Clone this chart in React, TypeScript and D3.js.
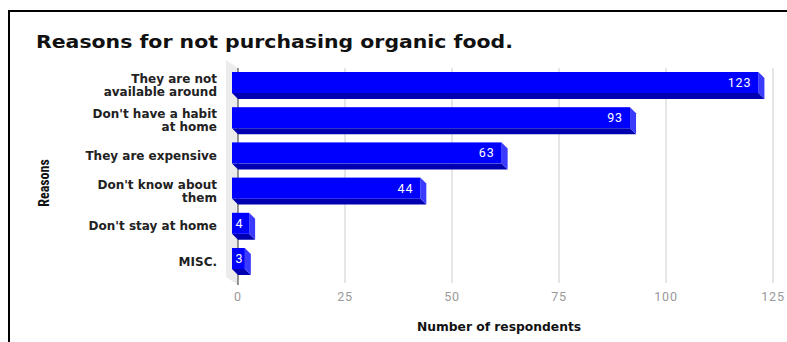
import React from "react";
import * as d3 from "d3";

const categories: string[][] = [
  ["They are not", "available around"],
  ["Don't have a habit", "at home"],
  ["They are expensive"],
  ["Don't know about", "them"],
  ["Don't stay at home"],
  ["MISC."],
];
const values: number[] = [123, 93, 63, 44, 4, 3];
const xTicks: number[] = [0, 25, 50, 75, 100, 125];
const title = "Reasons for not purchasing organic food.";
const xTitle = "Number of respondents";
const yTitle = "Reasons";

const W = 787;
const H = 342;
const DX = 6;
const DY = 6;
const BOLD_FONT = "DejaVu Sans, Verdana, sans-serif";

export default function App() {
  const x = d3.scaleLinear().domain([0, 125]).range([238, 773]);
  const ids = categories.map((_, i) => String(i));
  const y = d3.scalePoint<string>().domain(ids).range([82.5, 258.5]);
  const barH = 21;
  const faceLeft = x(0) - DX;

  return (
    <svg
      width={W}
      height={H}
      style={{ position: "absolute", left: 0, top: 0, background: "#fff" }}
    >
      {/* frame */}
      <rect x={0} y={0} width={W} height={H} fill="#fff" />
      <line x1={8} y1={11} x2={W} y2={11} stroke="#000" strokeWidth={2} />
      <line x1={9} y1={10} x2={9} y2={H} stroke="#000" strokeWidth={2} />

      <text
        x={36}
        y={48}
        fontFamily={BOLD_FONT}
        fontWeight="bold"
        fontSize={18.5}
        textLength={477}
        lengthAdjust="spacingAndGlyphs"
        fill="#111"
      >
        {title}
      </text>

      {/* back wall */}
      <polygon points={`226,60 238,68 238,285 226,277`} fill="#ececec" />

      {/* gridlines */}
      {xTicks.map((t) => (
        <line
          key={"g" + t}
          x1={x(t)}
          x2={x(t)}
          y1={68}
          y2={t === 0 ? 285 : 283}
          stroke={t === 0 ? "#333" : "#ccc"}
          strokeWidth={1}
        />
      ))}

      {/* bars */}
      {values.map((v, i) => {
        const c = y(String(i))!;
        const top = c - barH / 2;
        const bot = top + barH;
        const right = faceLeft + (x(v) - x(0));
        const label = String(v);
        const small = right - faceLeft < 30;
        return (
          <g key={"b" + i}>
            <polygon
              points={`${faceLeft},${bot} ${right},${bot} ${right + DX},${bot + DY} ${faceLeft + DX},${bot + DY}`}
              fill="#0000b0"
            />
            <polygon
              points={`${right},${top} ${right + DX},${top + DY} ${right + DX},${bot + DY} ${right},${bot}`}
              fill="#3b3bff"
            />
            <rect x={faceLeft} y={top} width={right - faceLeft} height={barH} fill="#0000ff" />
            <text
              x={small ? faceLeft + 3.5 : right - 7}
              y={c + 4.5}
              textAnchor={small ? "start" : "end"}
              fontFamily="Roboto, sans-serif"
              fontSize={12.5}
              letterSpacing={0.9}
              fill="#fff"
            >
              {label}
            </text>
          </g>
        );
      })}

      {/* category labels */}
      {categories.map((lines, i) => {
        const c = y(String(i))! + 3;
        const lh = 13;
        const start = c - ((lines.length - 1) * lh) / 2 + 4;
        return (
          <text
            key={"l" + i}
            textAnchor="end"
            fontFamily={BOLD_FONT}
            fontWeight="bold"
            fontSize={12}
            fill="#222"
          >
            {lines.map((ln, j) => (
              <tspan key={j} x={217} y={start + j * lh}>
                {ln}
              </tspan>
            ))}
          </text>
        );
      })}

      {/* x tick labels */}
      {xTicks.map((t) => (
        <text
          key={"t" + t}
          x={x(t)}
          y={301}
          textAnchor="middle"
          fontFamily="Roboto, sans-serif"
          fontSize={12.5}
          letterSpacing={0.8}
          fill="#999"
        >
          {t}
        </text>
      ))}

      <text
        x={499}
        y={331}
        textAnchor="middle"
        fontFamily={BOLD_FONT}
        fontWeight="bold"
        fontSize={12.3}
        fill="#111"
      >
        {xTitle}
      </text>

      <text
        transform="translate(49,183) rotate(-90)"
        textAnchor="middle"
        fontFamily="Liberation Sans Narrow, Roboto Condensed, Liberation Sans, sans-serif"
        fontWeight="bold"
        fontSize={14}
        fill="#111"
      >
        {yTitle}
      </text>
    </svg>
  );
}
